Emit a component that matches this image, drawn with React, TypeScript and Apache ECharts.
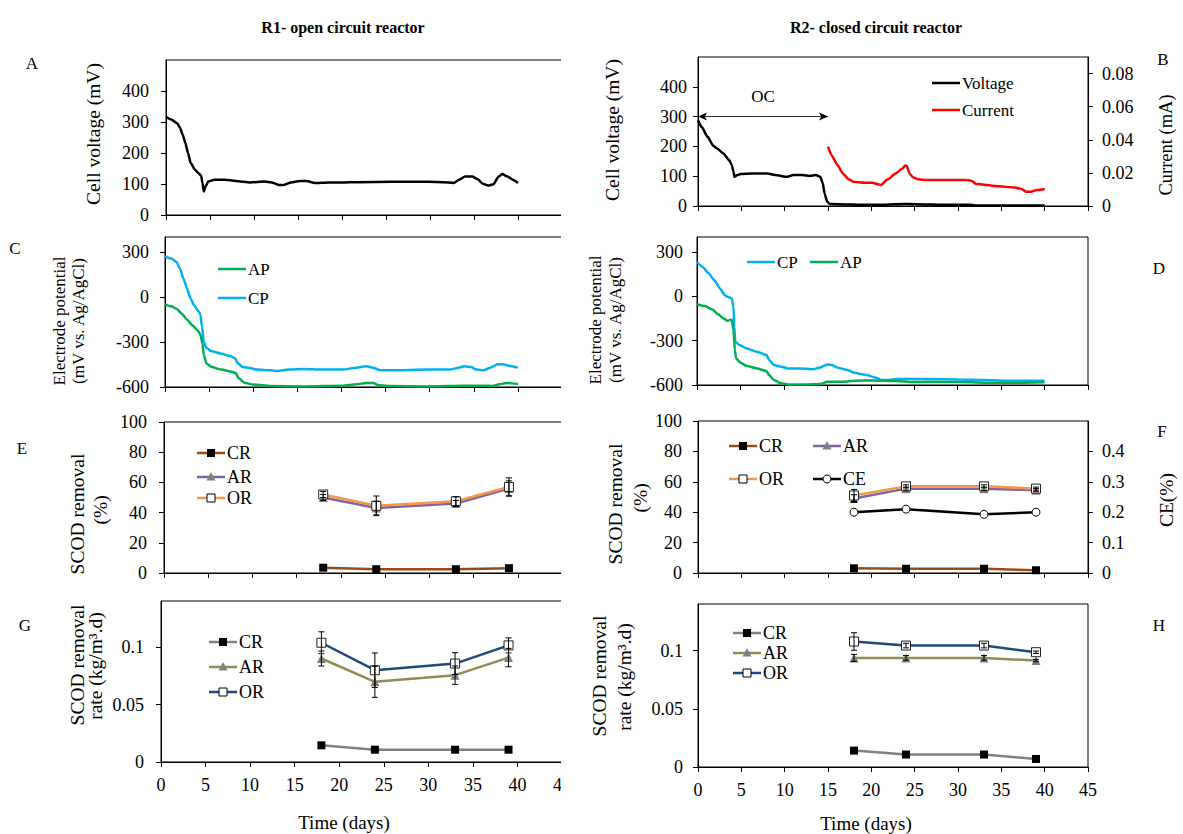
import React, { useEffect, useRef } from "react";
import * as echarts from "echarts";

const FONT = "'Liberation Serif', 'Times New Roman', serif";

// ---------- Panel A: R1 cell voltage (mV) ----------
const dayA = [0, 0.6, 1.3, 1.6, 1.9, 2.2, 2.5, 2.8, 3.3, 3.7, 4.0, 4.15, 4.3, 4.5, 4.8, 5.5, 6.7, 7.9, 9.6, 11.2, 12, 12.8, 13.4, 14.2, 15.2, 16, 16.9, 18.5, 20.1, 21.7, 25.8, 29.9, 31.5, 32.7, 33.3, 34, 34.8, 35.4, 36, 36.6, 37.2, 37.8, 38.2, 38.8, 39.4, 40];
const voltA = [317, 308, 295, 281, 259, 232, 200, 168, 146, 135, 126, 103, 76, 92, 108, 114, 114, 110, 105, 108, 105, 97, 97, 105, 110, 110, 103, 105, 105, 106, 107, 107, 106, 103, 114, 124, 124, 116, 101, 95, 99, 124, 132, 124, 114, 103];

// ---------- Panel B: R2 voltage (mV) and current (mA) ----------
const dayBV = [0, 0.45, 1.1, 1.8, 2.2, 2.9, 3.6, 3.9, 4.1, 4.2, 4.55, 4.9, 6.25, 8, 8.9, 10.3, 11, 12, 12.9, 13.6, 14.1, 14.4, 14.6, 14.9, 15.2, 16, 19.6, 21.4, 23.7, 25, 29, 31.3, 32, 40];
const voltB = [288, 264, 232, 201, 193, 177, 154, 137, 115, 98, 104, 107, 109, 109, 104, 98, 104, 104, 101, 104, 98, 76, 42, 15, 7, 6, 4, 4, 7, 6, 4, 4, 2, 2];
const dayBC = [15, 15.4, 16.1, 16.7, 17.4, 17.9, 19.2, 20.1, 20.8, 21.1, 21.9, 22.8, 23.6, 23.9, 24.1, 24.4, 24.8, 25.4, 26.3, 30.8, 31.5, 32.1, 33, 34.2, 35.3, 36.6, 37.3, 37.9, 38.4, 39.1, 40];
const currB = [0.0358, 0.0307, 0.0247, 0.0197, 0.0161, 0.0147, 0.0141, 0.0141, 0.0131, 0.0127, 0.0161, 0.0197, 0.0227, 0.0245, 0.0241, 0.0197, 0.0173, 0.0161, 0.0157, 0.0157, 0.0153, 0.0133, 0.0129, 0.0121, 0.0117, 0.0111, 0.0103, 0.0086, 0.0086, 0.0096, 0.0103];
const ocSpan = [0, 15];
const ocLevel = 300;

// ---------- Panel C: R1 electrode potentials ----------
const dayCCP = [0, 0.7, 1.3, 1.7, 2.1, 2.5, 2.9, 3.3, 3.8, 4.0, 4.2, 4.4, 4.7, 5.3, 6.4, 7.4, 7.9, 8.3, 8.8, 9.6, 10.4, 12, 12.8, 14, 15.7, 17.7, 20.1, 21.7, 22.8, 23.6, 24.4, 25.8, 29.8, 32.3, 33.3, 33.9, 34.7, 35.3, 36.1, 36.9, 37.7, 38.3, 39.1, 40];
const cpC = [271, 256, 233, 189, 122, 56, -11, -56, -96, -111, -200, -300, -340, -362, -378, -393, -407, -444, -467, -473, -484, -489, -493, -484, -480, -484, -484, -471, -462, -471, -489, -489, -484, -484, -471, -462, -467, -484, -489, -471, -449, -449, -460, -471];
const dayCAP = [0, 0.7, 1.3, 1.9, 2.5, 3.1, 3.7, 4.0, 4.25, 4.4, 4.7, 5.3, 6.4, 7.4, 8.0, 8.4, 9.0, 10, 12, 15.7, 20.1, 21.7, 22.8, 23.6, 24.2, 25.8, 29.8, 33.9, 35.9, 37.1, 37.9, 38.7, 40];
const apC = [-49, -62, -78, -111, -151, -189, -222, -249, -311, -389, -444, -467, -484, -496, -507, -544, -571, -584, -593, -596, -591, -582, -573, -573, -589, -593, -596, -591, -591, -593, -582, -573, -580];

// ---------- Panel D: R2 electrode potentials ----------
const dayDCP = [0, 0.66, 1.3, 2.0, 2.65, 3.2, 3.5, 4.0, 4.2, 4.3, 4.4, 4.9, 5.75, 6.9, 8.0, 8.3, 8.85, 9.7, 10.4, 11.9, 13.3, 14.2, 15, 15.5, 16.2, 17.3, 18.1, 19.5, 20.6, 21.2, 22.1, 23, 26.5, 30.1, 33.2, 35.4, 40];
const cpD = [231, 198, 157, 108, 52, 7, -4, -16, -72, -207, -308, -330, -353, -375, -398, -431, -465, -476, -488, -488, -494, -481, -461, -465, -483, -499, -517, -533, -551, -566, -566, -560, -560, -562, -566, -571, -571];
const dayDAP = [0, 0.9, 1.8, 2.4, 3.1, 3.5, 4.0, 4.2, 4.35, 4.5, 5.0, 5.75, 6.9, 8.0, 8.3, 8.85, 9.7, 10.6, 12.4, 14.2, 15, 16.8, 18.1, 20.4, 23, 24.8, 26.5, 30.1, 33.2, 37.6, 40];
const apD = [-54, -67, -90, -121, -151, -166, -157, -229, -364, -420, -449, -472, -488, -506, -533, -566, -589, -596, -596, -593, -578, -578, -571, -569, -573, -580, -578, -580, -584, -584, -582];

// ---------- Sampling days ----------
const sampleDays = [18, 24, 33, 39];

// Panel E: R1 SCOD removal (%)
const eCR = [3.5, 2.5, 2.5, 3.2];
const eAR = [50, 43, 46, 56];
const eOR = [52, 44.5, 47.5, 57];
const eORerr = [2, 6.5, 3, 6];
const eARerr = [2, 4.5, 2, 5];

// Panel F: R2 SCOD removal (%) and CE
const fCR = [3.1, 2.8, 2.8, 1.8];
const fAR = [49, 55.5, 55.5, 54.5];
const fOR = [51, 57, 57, 55.5];
const fCE = [0.2, 0.21, 0.193, 0.2];
const fORerr = [4, 1, 1, 1];
const fARerr = [2.5, 1, 1, 1];

// Panel G: R1 SCOD removal rate (kg/m3.d)
const gCR = [0.0145, 0.0107, 0.0107, 0.0107];
const gAR = [0.09, 0.0697, 0.0755, 0.0908];
const gOR = [0.1037, 0.0798, 0.0856, 0.1014];
const gORerr = [0.0095, 0.015, 0.0095, 0.0065];
const gARerr = [0.0065, 0.0135, 0.008, 0.008];

// Panel H: R2 SCOD removal rate (kg/m3.d)
const hCR = [0.0141, 0.0107, 0.0107, 0.0069];
const hAR = [0.0937, 0.0937, 0.0937, 0.0914];
const hOR = [0.1078, 0.1043, 0.1043, 0.0986];
const hORerr = [0.0075, 0.002, 0.002, 0.001];
const hARerr = [0.003, 0.002, 0.002, 0.001];

const xTicks = { min: 0, max: 45, interval: 5 };

const zip = (xs: number[], ys: number[]) => xs.map((x, i) => [x, ys[i]]);

function xAxis(gridIndex: number, showLabel: boolean) {
  return {
    type: "value",
    gridIndex,
    ...xTicks,
    axisLine: { show: true, onZero: false, lineStyle: { color: "#000", width: 1 } },
    axisTick: { show: true, length: 5, lineStyle: { color: "#000" } },
    axisLabel: { show: showLabel, color: "#000", fontFamily: FONT, fontSize: 18, margin: 14 },
    splitLine: { show: false },
  };
}

function yAxis(gridIndex: number, min: number, max: number, interval: number, hideMax: boolean, position = "left", margin = 16) {
  return {
    type: "value",
    gridIndex,
    min,
    max,
    interval,
    position,
    axisLine: { show: true, onZero: false, lineStyle: { color: "#000", width: 1 } },
    axisTick: { show: true, length: 5, lineStyle: { color: "#000" } },
    axisLabel: { color: "#000", fontFamily: FONT, fontSize: 18, margin, showMaxLabel: !hideMax },
    splitLine: { show: false },
  };
}

function curve(xi: number, yi: number, data: number[][], color: string) {
  return {
    type: "line",
    xAxisIndex: xi,
    yAxisIndex: yi,
    data,
    symbol: "none",
    smooth: 0.2,
    smoothMonotone: "x",
    lineStyle: { color, width: 2.5 },
    silent: true,
  };
}

function sample(xi: number, yi: number, vals: number[], lineColor: string, symbol: string, item: any, size = 8) {
  return {
    type: "line",
    xAxisIndex: xi,
    yAxisIndex: yi,
    data: zip(sampleDays, vals),
    symbol,
    symbolSize: size,
    showSymbol: true,
    lineStyle: { color: lineColor, width: 2.5 },
    itemStyle: item,
    z: 3,
    silent: true,
  };
}

function errBars(xi: number, yi: number, vals: number[], errs: number[]) {
  return {
    type: "custom",
    xAxisIndex: xi,
    yAxisIndex: yi,
    data: sampleDays.map((d, i) => [d, vals[i] - errs[i], vals[i] + errs[i]]),
    encode: { x: 0, y: [1, 2] },
    z: 4,
    silent: true,
    renderItem: (_p: any, api: any) => {
      const x = api.value(0);
      const lo = api.coord([x, api.value(1)]);
      const hi = api.coord([x, api.value(2)]);
      const w = 3;
      const st = { stroke: "#000", lineWidth: 1 };
      return {
        type: "group",
        children: [
          { type: "line", shape: { x1: lo[0], y1: lo[1], x2: hi[0], y2: hi[1] }, style: st },
          { type: "line", shape: { x1: lo[0] - w, y1: lo[1], x2: lo[0] + w, y2: lo[1] }, style: st },
          { type: "line", shape: { x1: hi[0] - w, y1: hi[1], x2: hi[0] + w, y2: hi[1] }, style: st },
        ],
      };
    },
  };
}

function txt(x: number, y: number, text: string, size = 17, opts: any = {}) {
  return {
    type: "text",
    x,
    y,
    z: 50,
    rotation: opts.rotation || 0,
    style: {
      text,
      fill: "#000",
      fontFamily: FONT,
      fontSize: size,
      fontWeight: opts.bold ? "bold" : "normal",
      align: opts.align || "center",
      verticalAlign: "middle",
    },
  };
}

const vtxt = (x: number, y: number, text: string, size = 19) => txt(x, y, text, size, { rotation: Math.PI / 2 });

function legItem(x: number, y: number, color: string, marker: string, label: string, size = 17) {
  const cx = x + 14;
  const children: any[] = [
    { type: "line", shape: { x1: x, y1: y, x2: x + 28, y2: y }, style: { stroke: color, lineWidth: 2.5 } },
  ];
  if (marker === "sq") children.push({ type: "rect", shape: { x: cx - 4, y: y - 4, width: 8, height: 8 }, style: { fill: "#000" } });
  if (marker === "hsq") children.push({ type: "rect", shape: { x: cx - 4, y: y - 4, width: 8, height: 8 }, style: { fill: "#fff", stroke: "#000", lineWidth: 1 } });
  if (marker === "tri") children.push({ type: "polygon", shape: { points: [[cx, y - 5], [cx - 4.5, y + 3.5], [cx + 4.5, y + 3.5]] }, style: { fill: "#808080" } });
  if (marker === "hc") children.push({ type: "circle", shape: { cx, cy: y, r: 4 }, style: { fill: "#fff", stroke: "#000", lineWidth: 1 } });
  children.push({
    type: "text",
    x: x + 30,
    y,
    style: { text: label, fill: "#000", fontFamily: FONT, fontSize: size, align: "left", verticalAlign: "middle" },
  });
  return { type: "group", z: 50, children };
}

const C_CR1 = "#9C4A12";
const C_AR1 = "#8064A2";
const C_OR1 = "#F79646";
const C_CR2 = "#808080";
const C_AR2 = "#948A54";
const C_OR2 = "#1F497D";
const GREEN = "#00B050";
const CYAN = "#00B0F0";

function buildOption() {
  const grids = [
    { left: 166, top: 60, width: 396, height: 155 },
    { left: 698, top: 57, width: 390, height: 149 },
    { left: 165, top: 237, width: 397, height: 150 },
    { left: 697, top: 237, width: 391, height: 148 },
    { left: 164, top: 422, width: 398, height: 151 },
    { left: 698, top: 421, width: 390, height: 152 },
    { left: 161, top: 601, width: 401, height: 161 },
    { left: 698, top: 604, width: 390, height: 163 },
  ].map((g) => ({ ...g, show: true, borderColor: "#000", borderWidth: 1, backgroundColor: "transparent" }));

  const xAxes = [0, 1, 2, 3, 4, 5, 6, 7].map((i) => xAxis(i, i >= 6));

  const yAxes = [
    yAxis(0, 0, 500, 100, true, "left", 17),
    yAxis(1, 0, 500, 100, true, "left", 11),
    yAxis(1, 0, 0.09, 0.02, true, "right", 14),
    yAxis(2, -600, 400, 300, true, "left", 16),
    yAxis(3, -600, 400, 300, true, "left", 14),
    yAxis(4, 0, 100, 20, false, "left", 17),
    yAxis(5, 0, 100, 20, false, "left", 16),
    yAxis(5, 0, 0.5, 0.1, true, "right", 14),
    yAxis(6, 0, 0.14, 0.05, true, "left", 17),
    yAxis(7, 0, 0.14, 0.05, true, "left", 15),
  ];

  const voltBSeries: any = curve(1, 1, zip(dayBV, voltB), "#000");
  voltBSeries.markLine = {
    silent: true,
    symbol: ["arrow", "arrow"],
    symbolSize: [6, 9],
    lineStyle: { color: "#000", width: 0.8, type: "solid" },
    label: { show: true, formatter: "OC", position: "insideMiddleTop", distance: 12, color: "#000", fontFamily: FONT, fontSize: 17 },
    data: [[{ coord: [ocSpan[0], ocLevel] }, { coord: [ocSpan[1], ocLevel] }]],
  };

  const series: any[] = [
    curve(0, 0, zip(dayA, voltA), "#000"),
    voltBSeries,
    curve(1, 2, zip(dayBC, currB), "#FF0000"),
    curve(2, 3, zip(dayCCP, cpC), CYAN),
    curve(2, 3, zip(dayCAP, apC), GREEN),
    curve(3, 4, zip(dayDCP, cpD), CYAN),
    curve(3, 4, zip(dayDAP, apD), GREEN),
    // E
    errBars(4, 5, eAR, eARerr),
    errBars(4, 5, eOR, eORerr),
    sample(4, 5, eCR, C_CR1, "rect", { color: "#000" }, 8),
    sample(4, 5, eAR, C_AR1, "triangle", { color: "#808080" }, 9),
    sample(4, 5, eOR, C_OR1, "rect", { color: "#fff", borderColor: "#222", borderWidth: 1 }, 9),
    // F
    errBars(5, 6, fAR, fARerr),
    errBars(5, 6, fOR, fORerr),
    sample(5, 6, fCR, C_CR1, "rect", { color: "#000" }, 8),
    sample(5, 6, fAR, C_AR1, "triangle", { color: "#808080" }, 9),
    sample(5, 6, fOR, C_OR1, "rect", { color: "#fff", borderColor: "#222", borderWidth: 1 }, 9),
    sample(5, 7, fCE, "#000", "circle", { color: "#fff", borderColor: "#000", borderWidth: 1 }, 8),
    // G
    errBars(6, 8, gAR, gARerr),
    errBars(6, 8, gOR, gORerr),
    sample(6, 8, gCR, C_CR2, "rect", { color: "#000" }, 8),
    sample(6, 8, gAR, C_AR2, "triangle", { color: "#808080" }, 9),
    sample(6, 8, gOR, C_OR2, "rect", { color: "#fff", borderColor: "#222", borderWidth: 1 }, 9),
    // H
    errBars(7, 9, hAR, hARerr),
    errBars(7, 9, hOR, hORerr),
    sample(7, 9, hCR, C_CR2, "rect", { color: "#000" }, 8),
    sample(7, 9, hAR, C_AR2, "triangle", { color: "#808080" }, 9),
    sample(7, 9, hOR, C_OR2, "rect", { color: "#fff", borderColor: "#222", borderWidth: 1 }, 9),
  ];

  const graphic: any[] = [
    // crop of the left column
    { type: "rect", z: 100, shape: { x: 561, y: 0, width: 12, height: 834 }, style: { fill: "#fff" } },
    txt(343, 27, "R1- open circuit reactor", 16, { bold: true }),
    txt(876, 27, "R2- closed circuit reactor", 16, { bold: true }),
    txt(32, 63, "A"),
    txt(1163, 59, "B"),
    txt(15, 248, "C"),
    txt(1159, 268, "D"),
    txt(22, 448, "E"),
    txt(1162, 431, "F"),
    txt(25, 625, "G"),
    txt(1159, 625, "H"),
    // axis names
    vtxt(93, 134, "Cell voltage (mV)", 19.5),
    vtxt(612, 130, "Cell voltage (mV)", 19.5),
    vtxt(1166, 145, "Current (mA)", 18.5),
    vtxt(59, 321, "Electrode potential", 17),
    vtxt(78, 321, "(mV vs. Ag/AgCl)", 17),
    vtxt(595, 320, "Electrode potential", 17),
    vtxt(615, 320, "(mV vs. Ag/AgCl)", 17),
    vtxt(77, 514, "SCOD removal", 19.5),
    vtxt(100, 510, "(%)", 19.5),
    vtxt(615, 504, "SCOD removal", 19.5),
    vtxt(640, 498, "(%)", 19.5),
    vtxt(1166, 500, "CE(%)", 19.5),
    vtxt(77, 665, "SCOD removal", 19.5),
    vtxt(95, 666, "rate (kg/m³.d)", 19.5),
    vtxt(599, 676, "SCOD removal", 19.5),
    vtxt(624, 677, "rate (kg/m³.d)", 19.5),
    txt(344, 822, "Time (days)", 19),
    txt(866, 823, "Time (days)", 19),
    // legends
    legItem(932, 83, "#000", "none", "Voltage"),
    legItem(932, 110, "#FF0000", "none", "Current"),
    legItem(218, 269, GREEN, "none", "AP"),
    legItem(218, 298, CYAN, "none", "CP"),
    legItem(747, 262, CYAN, "none", "CP"),
    legItem(810, 262, GREEN, "none", "AP"),
    legItem(197, 453, C_CR1, "sq", "CR", 18),
    legItem(197, 477, C_AR1, "tri", "AR", 18),
    legItem(197, 498, C_OR1, "hsq", "OR", 18),
    legItem(729, 446, C_CR1, "sq", "CR", 18),
    legItem(813, 446, C_AR1, "tri", "AR", 18),
    legItem(729, 479, C_OR1, "hsq", "OR", 18),
    legItem(813, 479, "#000", "hc", "CE", 18),
    legItem(209, 642, C_CR2, "sq", "CR", 18),
    legItem(209, 667, C_AR2, "tri", "AR", 18),
    legItem(209, 692, C_OR2, "hsq", "OR", 18),
    legItem(733, 633, C_CR2, "sq", "CR", 18),
    legItem(733, 653, C_AR2, "tri", "AR", 18),
    legItem(733, 673, C_OR2, "hsq", "OR", 18),
  ];

  return {
    animation: false,
    backgroundColor: "#fff",
    textStyle: { fontFamily: FONT },
    grid: grids,
    xAxis: xAxes,
    yAxis: yAxes,
    series,
    graphic,
  };
}

export default function App() {
  const ref = useRef<HTMLDivElement>(null);
  useEffect(() => {
    if (!ref.current) return;
    const chart = echarts.init(ref.current, null, { renderer: "svg" });
    chart.setOption(buildOption() as any);
    return () => chart.dispose();
  }, []);
  return <div ref={ref} style={{ position: "absolute", left: 0, top: 0, width: 1183, height: 834 }} />;
}
